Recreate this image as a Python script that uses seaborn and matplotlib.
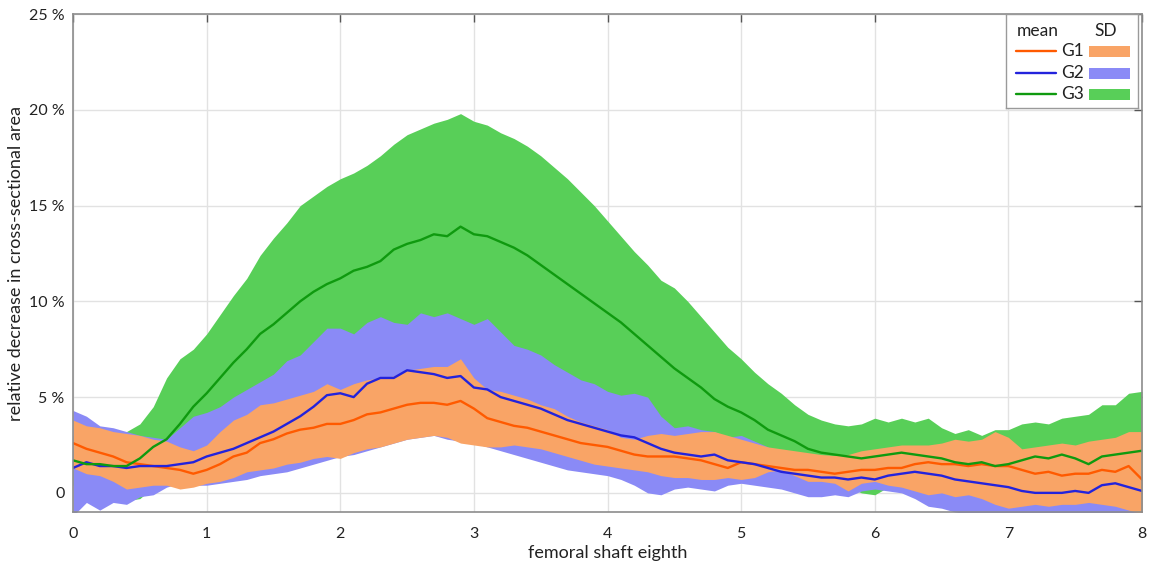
import matplotlib
matplotlib.use("Agg")
import matplotlib.pyplot as plt
import numpy as np
import pandas as pd
import seaborn as sns
from matplotlib.patches import Rectangle

# position along the femoral shaft (eighths), read every 0.1
x = np.round(np.arange(0, 8.01, 0.1), 1)

g1_mean = [2.6, 2.3, 2.1, 1.9, 1.6, 1.5, 1.4, 1.3, 1.2, 1.0,
           1.2, 1.5, 1.9, 2.1, 2.6, 2.8, 3.1, 3.3, 3.4, 3.6,
           3.6, 3.8, 4.1, 4.2, 4.4, 4.6, 4.7, 4.7, 4.6, 4.8,
           4.4, 3.9, 3.7, 3.5, 3.4, 3.2, 3.0, 2.8, 2.6, 2.5,
           2.4, 2.2, 2.0, 1.9, 1.9, 1.9, 1.8, 1.7, 1.5, 1.3,
           1.6, 1.5, 1.4, 1.3, 1.2, 1.2, 1.1, 1.0, 1.1, 1.2,
           1.2, 1.3, 1.3, 1.5, 1.6, 1.5, 1.5, 1.4, 1.5, 1.4,
           1.4, 1.2, 1.0, 1.1, 0.9, 1.0, 1.0, 1.2, 1.1, 1.4,
           0.7]
g1_hi = [3.8, 3.5, 3.4, 3.2, 3.1, 3.0, 2.8, 2.7, 2.4, 2.2,
         2.5, 3.2, 3.8, 4.1, 4.6, 4.7, 4.9, 5.1, 5.3, 5.7,
         5.4, 5.7, 5.9, 6.0, 6.1, 6.4, 6.5, 6.6, 6.6, 7.0,
         6.0, 5.4, 5.3, 5.1, 4.9, 4.6, 4.4, 4.0, 3.7, 3.5,
         3.3, 2.9, 2.8, 3.0, 3.1, 3.0, 3.1, 3.2, 3.2, 3.0,
         2.8, 2.6, 2.4, 2.3, 2.2, 2.1, 2.0, 1.95, 2.0, 2.2,
         2.3, 2.4, 2.5, 2.5, 2.5, 2.6, 2.8, 2.7, 2.8, 3.2,
         2.9, 2.3, 2.4, 2.5, 2.6, 2.5, 2.7, 2.8, 2.9, 3.2,
         3.2]
g1_lo = [1.3, 1.0, 0.9, 0.6, 0.2, 0.3, 0.4, 0.4, 0.2, 0.3,
         0.5, 0.6, 0.8, 1.1, 1.2, 1.3, 1.5, 1.6, 1.8, 1.9,
         1.8, 2.1, 2.3, 2.4, 2.6, 2.8, 2.9, 3.0, 2.9, 2.6,
         2.5, 2.4, 2.4, 2.5, 2.4, 2.3, 2.1, 1.9, 1.7, 1.5,
         1.4, 1.3, 1.2, 1.1, 0.9, 0.8, 0.8, 0.7, 0.7, 0.8,
         0.7, 0.8, 1.1, 1.2, 0.9, 0.6, 0.6, 0.5, 0.1, 0.5,
         0.6, 0.4, 0.3, 0.1, -0.1, 0.0, -0.2, -0.1, -0.3, -0.6,
         -0.8, -0.7, -0.6, -0.7, -0.6, -0.6, -0.5, -0.6, -0.7, -0.9,
         -1.1]

g2_mean = [1.3, 1.6, 1.4, 1.4, 1.3, 1.4, 1.4, 1.4, 1.5, 1.6,
           1.9, 2.1, 2.3, 2.6, 2.9, 3.2, 3.6, 4.0, 4.5, 5.1,
           5.2, 5.0, 5.7, 6.0, 6.0, 6.4, 6.3, 6.2, 6.0, 6.1,
           5.5, 5.4, 5.0, 4.8, 4.6, 4.4, 4.1, 3.8, 3.6, 3.4,
           3.2, 3.0, 2.9, 2.6, 2.3, 2.1, 2.0, 1.9, 2.0, 1.7,
           1.6, 1.5, 1.3, 1.1, 1.0, 0.9, 0.8, 0.8, 0.7, 0.8,
           0.7, 0.9, 1.0, 1.1, 1.0, 0.9, 0.7, 0.6, 0.5, 0.4,
           0.3, 0.1, 0.0, 0.0, 0.0, 0.1, 0.0, 0.4, 0.5, 0.3,
           0.1]
g2_hi = [4.3, 4.0, 3.5, 3.4, 3.2, 3.0, 2.9, 2.8, 3.4, 4.0,
         4.2, 4.5, 5.0, 5.4, 5.8, 6.2, 6.9, 7.2, 7.9, 8.6,
         8.6, 8.3, 8.9, 9.2, 8.9, 8.8, 9.4, 9.2, 9.4, 9.1,
         8.8, 9.1, 8.4, 7.7, 7.5, 7.2, 6.7, 6.3, 5.9, 5.7,
         5.3, 5.1, 5.2, 5.0, 4.0, 3.4, 3.5, 3.3, 3.2, 2.9,
         3.0, 2.7, 2.4, 2.0, 1.9, 1.8, 1.7, 1.7, 1.6, 1.6,
         1.7, 1.8, 1.9, 2.0, 1.9, 1.8, 1.6, 1.5, 1.4, 1.3,
         1.2, 1.1, 1.0, 1.0, 1.1, 1.1, 1.0, 1.3, 1.4, 1.3,
         1.2]
g2_lo = [-1.2, -0.5, -0.9, -0.5, -0.6, -0.2, -0.1, 0.3, 0.5, 0.4,
         0.4, 0.5, 0.6, 0.7, 0.9, 1.0, 1.1, 1.3, 1.5, 1.7,
         1.9, 2.0, 2.2, 2.4, 2.6, 2.8, 2.9, 3.0, 2.8, 2.7,
         2.6, 2.4, 2.2, 2.0, 1.8, 1.6, 1.4, 1.2, 1.1, 1.0,
         0.9, 0.7, 0.4, 0.0, -0.1, 0.2, 0.3, 0.2, 0.1, 0.4,
         0.5, 0.4, 0.3, 0.2, 0.0, -0.2, -0.2, -0.1, -0.2, 0.1,
         0.2, 0.1, 0.0, -0.3, -0.7, -0.8, -1.0, -1.1, -1.2, -1.2,
         -1.3, -1.3, -1.3, -1.3, -1.3, -1.3, -1.3, -1.3, -1.3, -1.3,
         -1.3]

g3_mean = [1.7, 1.5, 1.5, 1.4, 1.4, 1.8, 2.4, 2.8, 3.6, 4.5,
           5.2, 6.0, 6.8, 7.5, 8.3, 8.8, 9.4, 10.0, 10.5, 10.9,
           11.2, 11.6, 11.8, 12.1, 12.7, 13.0, 13.2, 13.5, 13.4, 13.9,
           13.5, 13.4, 13.1, 12.8, 12.4, 11.9, 11.4, 10.9, 10.4, 9.9,
           9.4, 8.9, 8.3, 7.7, 7.1, 6.5, 6.0, 5.5, 4.9, 4.5,
           4.2, 3.8, 3.3, 3.0, 2.7, 2.3, 2.1, 2.0, 1.9, 1.8,
           1.9, 2.0, 2.1, 2.0, 1.9, 1.8, 1.6, 1.5, 1.6, 1.4,
           1.5, 1.7, 1.9, 1.8, 2.0, 1.8, 1.5, 1.9, 2.0, 2.1,
           2.2]
g3_hi = [3.0, 3.0, 3.0, 3.0, 3.2, 3.6, 4.5, 6.0, 7.0, 7.5,
         8.3, 9.3, 10.3, 11.2, 12.4, 13.3, 14.1, 15.0, 15.5, 16.0,
         16.4, 16.7, 17.1, 17.6, 18.2, 18.7, 19.0, 19.3, 19.5, 19.8,
         19.4, 19.2, 18.8, 18.5, 18.1, 17.6, 17.0, 16.4, 15.7, 15.0,
         14.2, 13.4, 12.6, 11.9, 11.1, 10.7, 10.0, 9.2, 8.4, 7.6,
         7.0, 6.3, 5.7, 5.2, 4.6, 4.1, 3.8, 3.6, 3.5, 3.6,
         3.9, 3.7, 3.9, 3.7, 3.9, 3.4, 3.1, 3.3, 3.0, 3.3,
         3.3, 3.6, 3.7, 3.6, 3.9, 4.0, 4.1, 4.6, 4.6, 5.2,
         5.3]
g3_lo = [0.4, 0.2, 0.0, -0.2, -0.4, -0.3, 0.3, 0.5, 0.9, 1.5,
         2.1, 2.7, 3.3, 3.8, 4.2, 4.3, 4.7, 5.0, 5.5, 5.8,
         6.0, 6.5, 6.5, 6.6, 7.2, 7.3, 7.4, 7.7, 7.3, 8.0,
         7.6, 7.6, 7.4, 7.1, 6.7, 6.2, 5.8, 5.4, 5.1, 4.8,
         4.6, 4.4, 4.0, 3.5, 3.1, 2.3, 2.0, 1.8, 1.4, 1.4,
         1.4, 1.3, 0.9, 0.8, 0.8, 0.5, 0.4, 0.4, 0.3, 0.0,
         -0.1, 0.3, 0.3, 0.3, -0.1, 0.2, 0.1, -0.3, 0.2, -0.5,
         -0.3, -0.2, 0.1, 0.0, 0.1, -0.4, -1.1, -0.8, -0.6, -1.0,
         -0.9]

groups = ["G1", "G2", "G3"]
line_colors = {"G1": "#ff5a00", "G2": "#2323dc", "G3": "#0f9a0f"}
fill_colors = {"G1": "#f9a466", "G2": "#8a8af6", "G3": "#58cf58"}

means = pd.DataFrame({
    "x": np.tile(x, 3),
    "mean": np.concatenate([g1_mean, g2_mean, g3_mean]),
    "group": np.repeat(groups, len(x)),
})

sns.set_theme(style="whitegrid")
plt.rcParams["font.family"] = ["Lato", "DejaVu Sans"]

fig = plt.figure(figsize=(11.54, 5.61), dpi=100)
ax = fig.add_axes([0.0633, 0.0873, 0.9263, 0.8877])

# SD bands, drawn green -> blue -> orange like the original
for g, lo, hi in [("G3", g3_lo, g3_hi), ("G2", g2_lo, g2_hi), ("G1", g1_lo, g1_hi)]:
    ax.fill_between(x, lo, hi, color=fill_colors[g], linewidth=0, zorder=2)

sns.lineplot(data=means, x="x", y="mean", hue="group", hue_order=groups,
             palette=line_colors, linewidth=1.7, legend=False, ax=ax, zorder=3)

ax.set_xlim(0, 8)
ax.set_ylim(-1, 25)
ax.set_xticks(range(0, 9))
ax.set_yticks([0, 5, 10, 15, 20, 25])
ax.set_yticklabels(["0", "5 %", "10 %", "15 %", "20 %", "25 %"])
ax.set_xlabel("femoral shaft eighth", fontsize=13, color="#222222", labelpad=3)
ax.set_ylabel("relative decrease in cross-sectional area", fontsize=13,
              color="#222222")
ax.yaxis.set_label_coords(-0.046, 0.5)
ax.tick_params(axis="both", labelsize=11.5, colors="#555555", direction="in",
               length=6, width=1, labelcolor="#222222",
               top=True, right=True, pad=11)
ax.tick_params(axis="y", pad=6)
ax.grid(True, color="#e2e2e2", linewidth=1)
ax.set_axisbelow(True)
for s in ax.spines.values():
    s.set_color("#8c8c8c")
    s.set_linewidth(1.2)
    s.set_zorder(5)

# legend box in the upper right corner, laid out like the original
lg = fig.add_axes([1006 / 1154, 1 - 108 / 561, 132 / 1154, 94 / 561])
lg.set_xlim(1006, 1138)
lg.set_ylim(108, 14)
lg.set_xticks([])
lg.set_yticks([])
lg.set_facecolor("white")
for s in lg.spines.values():
    s.set_color("#9a9a9a")
    s.set_linewidth(1)
lg.text(1017, 31, "mean", fontsize=12.5, va="center", ha="left", color="#222222")
lg.text(1106, 31, "SD", fontsize=12.5, va="center", ha="center", color="#222222")
for g, yy in zip(groups, [51, 73, 94]):
    lg.plot([1016, 1056], [yy, yy], color=line_colors[g], linewidth=1.7)
    lg.text(1061, yy, g, fontsize=12.5, va="center", ha="left", color="#222222")
    lg.add_patch(Rectangle((1089, yy - 5.5), 41, 11, color=fill_colors[g], linewidth=0))

fig.savefig("out.png", dpi=100)
